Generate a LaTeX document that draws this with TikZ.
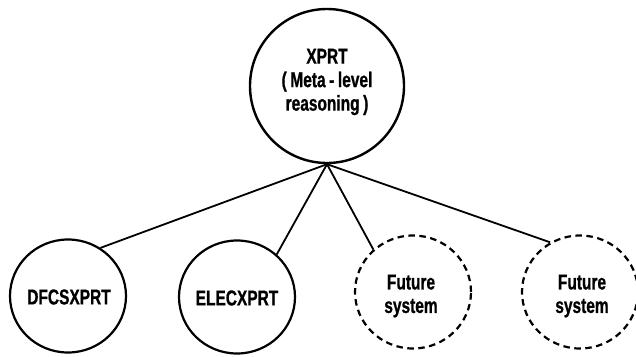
\documentclass[tikz,border=0pt]{standalone}
\usepackage{fontspec}
\setmainfont{Liberation Sans}[FakeStretch=0.72, BoldFeatures={FakeBold=0.8}]
\usetikzlibrary{shapes.geometric}
\begin{document}
\begin{tikzpicture}[x=1pt,y=-1pt,
  lbl/.style={font=\fontsize{21.5}{23.5}\selectfont\bfseries, align=center, inner sep=0pt},
  topnode/.style={circle, draw, line width=2.4pt, minimum size=154pt, inner sep=0pt},
  sysnode/.style={ellipse, draw, line width=2.2pt, minimum width=116pt, minimum height=113pt, inner sep=0pt},
  futnode/.style={sysnode, dash pattern=on 6.5pt off 4.5pt},
  link/.style={line width=1.8pt}]
\useasboundingbox (0,0) rectangle (636,356);
\node[topnode] (top) at (327,86) {};
\node[lbl] (toptext) at (327,82) {XPRT\\(\,Meta\,-\,level\\reasoning\,)};
\coordinate (apex) at (top.south);
\node[sysnode] (dfcs) at (68,296) {};
\node[lbl] (dfcstext) at (69,297) {DFCSXPRT};
\node[sysnode] (elec) at (237,297) {};
\node[lbl] (electext) at (237,298) {ELECXPRT};
\node[futnode] (fut1) at (413,292) {};
\node[lbl] (fut1text) at (411,296) {Future\\system};
\node[futnode] (fut2) at (580,292) {};
\node[lbl] (fut2text) at (582,296) {Future\\system};
\draw[link] (apex) -- (dfcs.56);
\draw[link] (apex) -- (elec.47);
\draw[link] (apex) -- (fut1.133);
\draw[link] (apex) -- (fut2.121);
\end{tikzpicture}
\end{document}
